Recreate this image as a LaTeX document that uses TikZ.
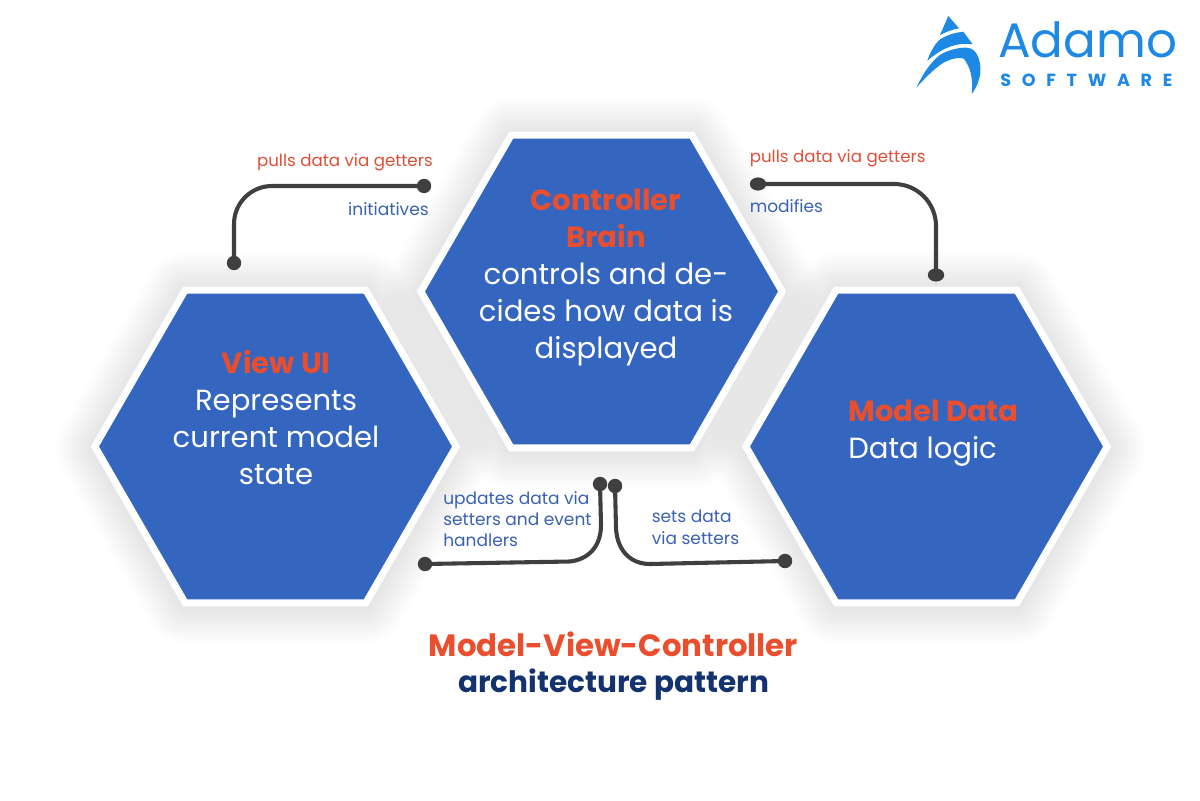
\documentclass[tikz,border=0pt]{standalone}
\usepackage{fontspec}
\setmainfont{Poppins}
\usetikzlibrary{shapes.geometric,positioning}

\definecolor{hexblue}{HTML}{3465BF}
\definecolor{hexred}{HTML}{E94F2E}
\definecolor{labblue}{HTML}{3A62B0}
\definecolor{labred}{HTML}{DE5037}
\definecolor{titlenavy}{HTML}{14326E}
\definecolor{wiregray}{HTML}{3F3F3F}
\definecolor{logoblue}{HTML}{1E88E5}

\tikzset{
	hexa/.style={regular polygon,regular polygon sides=6,minimum size=9.03cm,inner sep=0pt},
	hexcell/.style={hexa,draw=white,line width=5pt,fill=hexblue},
	hexglow/.style={hexa,draw=black,draw opacity=0.005,line join=round},
	hextext/.style={inner sep=0pt,text=white,font=\fontsize{20.7}{26.3}\selectfont,align=center},
	wire/.style={draw=wiregray,line width=2.9pt},
	wiredot/.style={circle,fill=wiregray,inner sep=0pt,minimum size=0.36cm},
	wideDot/.style={ellipse,fill=wiregray,inner sep=0pt,minimum width=0.41cm,minimum height=0.33cm},
	smalltext/.style={inner sep=0pt,font=\fontsize{12.1}{15.2}\selectfont},
	pulltext/.style={inner sep=0pt,text=labred,font=\fontsize{11.85}{15.2}\selectfont},
}

\begin{document}
\begin{tikzpicture}[x=0.025cm,y=-0.025cm]
	\useasboundingbox (0,0) rectangle (1200,800);
	\fill[white] (0,0) rectangle (1200,800);

	% soft shadow round the cells
	\foreach \w in {8,10,...,56}{
		\node[hexglow,line width=\w pt] at (601.5,293) {};
		\node[hexglow,line width=\w pt] at (275.5,448) {};
		\node[hexglow,line width=\w pt] at (926.5,448) {};
	}

	\node[hexcell] (Controller) at (601.5,291.5) {};
	\node[hexcell] (View) at (275.5,446.5) {};
	\node[hexcell] (Model) at (926.5,446.5) {};

	\node[hextext,anchor=north] (ControllerText) at (606,189) {\textcolor{hexred}{\textbf{Controller}}\\\textcolor{hexred}{\textbf{Brain}}\\controls and de-\\cides how data is\\displayed};
	\node[hextext,anchor=north] (ViewText) at (276,350) {\textcolor{hexred}{\textbf{View UI}}\\Represents\\current model\\state};
	\node[hextext,anchor=north west,align=left] (ModelText) at (848,400) {\textcolor{hexred}{\textbf{Model Data}}\\Data logic};

	% connectors
	\node[wiredot] (InitEnd) at (424,186) {};
	\node[wiredot] (InitStart) at (234,263) {};
	\node[wideDot] (ModEnd) at (758,184) {};
	\node[wideDot] (ModStart) at (936,275) {};
	\node[wiredot] (UpdLeft) at (425,564) {};
	\node[wiredot] (UpdTop) at (600,484) {};
	\node[wiredot] (SetTop) at (615,486) {};
	\node[wiredot] (SetRight) at (785,561) {};

	\draw[wire,rounded corners=0.95cm] (InitEnd.center) -| (InitStart.center);
	\draw[wire,rounded corners=1.05cm] (ModEnd.center) -| (ModStart.center);
	\draw[wire] (UpdLeft.center) -- (570,561.5) .. controls (590,559) and (601,545) .. (601,525) -- (UpdTop.center);
	\draw[wire] (SetTop.center) -- (616,528) .. controls (617,550) and (630,564) .. (650,564) -- (SetRight.center);

	% labels
	\node[pulltext,anchor=base east] (InitPull) at (433,166.5) {pulls data via getters};
	\node[smalltext,text=labblue,anchor=base east] (InitLabel) at (429,216) {initiatives};
	\node[pulltext,anchor=base west] (ModPull) at (749.5,163) {pulls data via getters};
	\node[smalltext,text=labblue,anchor=base west] (ModLabel) at (749.5,212) {modifies};
	\node[smalltext,text=labblue,anchor=north west,align=left] (UpdLabel) at (443,491) {updates data via\\setters and event\\handlers};
	\node[smalltext,text=labblue,anchor=north west,align=left] (SetLabel) at (651.5,510) {sets data\\via setters};

	% title
	\node[inner sep=0pt,text=hexred,font=\fontsize{21.9}{26}\selectfont\bfseries,anchor=base] (TitleTop) at (613.5,656) {Model-View-Controller};
	\node[inner sep=0pt,text=titlenavy,font=\fontsize{21}{26}\selectfont\bfseries,anchor=base] (TitleBottom) at (613.5,692) {architecture pattern};

	% logo
	\fill[logoblue] (948.3,16) -- (959,28.3) .. controls (952,29.5) and (946,32) .. (940,35) -- cycle;
	\fill[logoblue] (927.3,60.7) .. controls (931,50) and (936,42) .. (941.7,38.3) .. controls (948,34.5) and (956,32.5) .. (963.3,31.7) -- (972.7,44.3) .. controls (964,43) and (956,44.5) .. (950,46.7) .. controls (942,49.5) and (934,55) .. (927.3,60.7) -- cycle;
	\fill[logoblue] (916.7,87.3) .. controls (923,73) and (931,62) .. (940,55) .. controls (948,50) and (958,47.5) .. (966.7,47.7) .. controls (973,48) and (976,52) .. (978,56.7) .. controls (982,66) and (982,80) .. (971.7,94) .. controls (973,80) and (971,70) .. (966.7,63.3) .. controls (965,60) and (964,58) .. (962,58) .. controls (955,57.5) and (948,60) .. (943,63) .. controls (935,68) and (925,78) .. (916.7,87.3) -- cycle;
	\node[inner sep=0pt,text=logoblue,font=\fontsize{34.4}{40}\selectfont,anchor=base west] (LogoName) at (998,58) {Adamo};
	\node[inner sep=0pt,text=logoblue,anchor=base west] (LogoSub) at (1000,87) {\fontsize{12.5}{14}\selectfont\addfontfeatures{LetterSpace=61}\bfseries SOFTWARE};
\end{tikzpicture}
\end{document}
